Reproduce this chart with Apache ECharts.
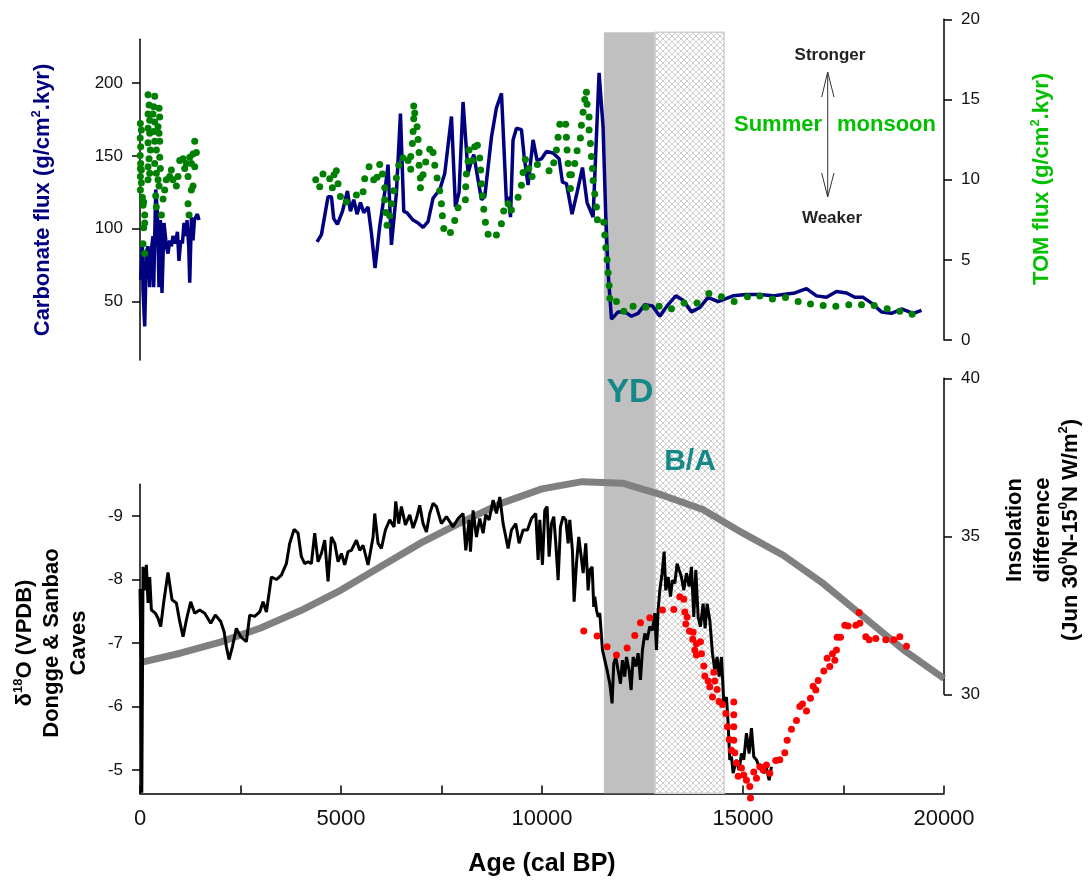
<!DOCTYPE html>
<html>
<head>
<meta charset="utf-8">
<script src="https://cdn.jsdelivr.net/npm/echarts@6.0.0/dist/echarts.min.js"></script>
<style>
  html, body { margin: 0; padding: 0; background: #fff; }
  #chart { width: 1089px; height: 889px; }
</style>
</head>
<body>
<div id="chart"></div>
<script>
"use strict";

// age axis (cal BP)
var ageTicks = [0, 5000, 10000, 15000, 20000];
// shaded intervals: Younger Dryas, Bolling/Allerod
var ydBand = [11540, 12815];
var baBand = [12815, 14530];

// carbonate flux (g/cm2.kyr), null = gap in record
var carbonFlux = [
  [17,65],[60,88],[75,58],[117,33],[159,84],[199,88],[241,60],[284,86],[323,95],[341,60],[391,127],[433,111],
  [473,60],[508,106],[547,56],[597,104],[657,88],[697,83],[739,92],[781,88],[821,95],[881,90],[931,98],[970,78],
  [1013,92],[1055,90],[1095,104],[1137,95],[1169,106],[1212,88],[1237,63],[1279,108],[1319,92],[1353,106],
  [1386,108],[1428,110],[1468,106],[3000,null],
  [4404,91],[4513,96],[4677,122],[4762,122],[4819,107],[4911,103],[5036,112],[5160,126],[5235,112],[5317,120],
  [5399,110],[5484,118],[5566,111],[5673,115],[5757,97],[5847,73],[5964,102],[6088,125],[6170,144],[6255,89],
  [6379,125],[6479,179],[6561,112],[6643,111],[6792,106],[6917,104],[7041,101],[7165,105],[7290,121],[7457,127],
  [7581,138],[7748,177],[7847,115],[7937,125],[8036,187],[8161,138],[8228,145],[8303,151],[8370,140],[8494,120],
  [8576,122],[8743,163],[8867,183],[8992,193],[9116,118],[9156,122],[9216,108],[9280,161],[9365,169],[9489,168],
  [9554,150],[9653,130],[9778,161],[9877,147],[9987,148],[10111,153],[10275,152],[10425,148],[10509,132],
  [10609,131],[10748,110],[10873,125],[11007,142],[11121,118],[11271,108],[11420,207],[11519,170],[11587,108],
  [11644,70],[11729,38],[11893,43],[12059,43],[12226,40],[12390,42],[12557,48],[12749,47],[12930,40],[13137,48],
  [13328,54],[13510,51],[13719,43],[13925,46],[14132,53],[14381,50],[14754,54],[15087,55],[15418,55],[15749,54],
  [15998,55],[16289,56],[16580,59],[16829,54],[17077,53],[17326,57],[17575,56],[17782,53],[17988,53],[18197,49],
  [18446,43],[18695,42],[18944,45],[19232,42],[19441,44]
];

// TOM flux (g/cm2.kyr)
var tomFlux = [
  [9,13.5],[34,13.1],[5,12.6],[17,12.05],[5,11.5],[17,11.0],[10,10.7],[34,10.6],[10,10.2],[34,9.8],[10,9.35],
  [59,8.9],[92,8.6],[75,8.4],[117,7.8],[117,7.3],[92,7.0],[75,6.0],[117,5.4],
  [200,15.3],[225,14.65],[200,14.1],[241,13.7],[200,13.2],[241,12.9],[200,12.3],[258,11.85],[225,11.3],[200,10.8],
  [241,10.4],[200,10.0],
  [366,15.2],[341,14.55],[474,14.45],[324,14.1],[490,13.9],[366,13.6],[449,13.3],[341,13.0],[474,12.9],[366,12.4],
  [490,12.4],[407,11.85],[490,11.4],[366,11.0],[507,10.7],[407,10.4],[449,10.0],[474,9.6],[391,9.0],[407,8.3],[532,7.8],
  [573,8.8],[614,9.35],[656,10.0],[739,10.2],[780,10.6],[822,10.0],[905,9.6],[946,10.2],[988,11.2],[1071,11.3],
  [1112,10.7],[1154,11.0],[1195,10.2],[1237,11.4],[1278,11.0],[1278,9.35],[1195,8.5],[1220,7.8],[1319,9.6],
  [1319,11.6],[1361,12.4],[1402,11.7],[1361,10.8],
  [4371,10.0],[4471,9.55],[4553,10.35],[4719,10.05],[4786,9.5],[4827,10.3],[4885,10.55],[4927,9.75],[4985,8.95],
  [5134,8.6],[5383,9.05],[5549,9.25],[5590,10.05],[5698,10.8],[5814,10.0],[5897,10.15],[5963,10.95],[6030,10.35],
  [6088,9.5],[6088,8.75],[6113,7.95],[6146,7.15],[6212,7.75],[6254,8.5],[6312,9.3],[6378,10.1],[6436,10.9],
  [6544,11.35],[6668,11.2],[6735,10.65],[6735,11.45],[6776,12.25],[6793,13.0],[6809,13.8],[6834,14.15],[6809,14.6],
  [6892,13.3],[6917,12.5],[6942,11.7],[6942,10.9],[6975,10.1],[7041,10.3],[6975,9.5],[7108,11.1],[7207,11.9],
  [7290,11.7],[7332,10.9],[7390,10.1],[7456,9.3],[7498,8.5],[7522,7.75],[7556,6.95],[7722,6.7],[7829,7.45],
  [7912,8.25],[8095,8.75],[8103,9.55],[8120,10.35],[8161,11.15],[8186,11.85],[8269,11.2],[8327,12.05],[8393,12.15],
  [8451,11.35],[8476,10.6],[8493,9.75],[8518,9.0],[8551,8.15],[8592,7.35],[8659,6.6],[8866,6.55],[8990,7.25],
  [9048,8.05],[9156,8.5],[9239,8.1],[9405,8.9],[9488,9.65],[9529,10.45],[9587,11.25],[9670,10.7],[9753,10.2],
  [9886,10.95],[10176,10.55],[10292,11.05],[10359,11.85],[10400,12.65],[10442,13.45],[10590,13.45],[10607,12.65],
  [10624,11.85],[10649,11.0],[10690,10.3],[10732,10.3],[10707,9.45],[10815,11.0],[10873,11.8],[10956,12.6],
  [10981,13.4],[11022,14.2],[11064,15.0],[11105,15.45],[11121,14.7],[11171,13.9],[11171,13.1],[11204,12.25],
  [11229,11.45],[11254,10.7],[11271,9.95],[11312,9.1],[11354,8.3],[11378,7.5],[11536,7.35],[11561,6.55],
  [11586,5.75],[11619,5.0],[11644,4.2],[11669,3.4],[11686,2.6],[11851,2.4],[12034,1.8],[12266,2.1],[12581,2.05],
  [12913,2.1],[13220,1.95],[13535,2.3],[13858,2.3],[14149,2.9],[14464,2.7],[14780,2.4],[15111,2.7],[15418,2.75],
  [15733,2.55],[16057,2.65],[16372,2.4],[16679,2.25],[16994,2.15],[17309,2.1],[17632,2.2],[17947,2.2],[18263,2.15],
  [18586,1.95],[18901,1.8],[19208,1.6]
];

// speleothem d18O, Dongge & Sanbao (permil VPDB)
var caveD18O = [
  [0,-7.85],[25,-6.8],[45,-4.64],[70,-7.5],[75,-8.2],[117,-7.83],[158,-8.23],[200,-7.63],[241,-8.04],[283,-7.52],
  [324,-7.55],[382,-7.47],[449,-7.39],[515,-7.26],[598,-7.68],[697,-8.11],[797,-7.68],[905,-7.63],[988,-7.34],
  [1071,-7.1],[1153,-7.36],[1261,-7.65],[1361,-7.47],[1485,-7.52],[1610,-7.47],[1759,-7.31],[1875,-7.44],
  [2008,-7.34],[2091,-7.18],[2149,-6.94],[2215,-6.74],[2298,-6.94],[2397,-7.23],[2505,-7.1],[2646,-7.02],
  [2729,-7.44],[2853,-7.42],[2978,-7.49],[3061,-7.65],[3144,-7.49],[3268,-8.04],[3393,-8.0],[3517,-8.07],
  [3641,-8.25],[3724,-8.57],[3832,-8.79],[3932,-8.73],[4014,-8.36],[4097,-8.25],[4180,-8.28],[4263,-8.25],
  [4346,-8.73],[4429,-8.28],[4512,-8.41],[4595,-8.62],[4678,-7.97],[4761,-8.67],[4844,-8.57],[4927,-8.28],
  [5010,-8.41],[5093,-8.23],[5175,-8.44],[5258,-8.46],[5383,-8.62],[5466,-8.46],[5549,-8.54],[5673,-8.23],
  [5798,-8.67],[5839,-9.04],[5922,-8.57],[6005,-8.49],[6104,-8.78],[6212,-8.94],[6320,-8.83],[6361,-9.23],
  [6436,-8.88],[6502,-9.15],[6602,-8.86],[6710,-9.02],[6793,-8.81],[6876,-8.96],[6959,-9.17],[7042,-8.88],
  [7125,-8.75],[7207,-9.04],[7291,-9.2],[7374,-9.15],[7498,-8.88],[7623,-8.99],[7788,-8.83],[7913,-8.96],
  [8037,-9.04],[8104,-8.46],[8187,-8.94],[8220,-8.44],[8286,-9.09],[8369,-8.67],[8452,-8.96],[8535,-8.73],
  [8601,-9.02],[8684,-8.94],[8784,-9.25],[8867,-9.04],[8950,-9.3],[9033,-8.88],[9157,-8.49],[9240,-8.78],
  [9348,-8.88],[9431,-8.57],[9530,-8.78],[9638,-8.78],[9737,-8.96],[9845,-9.04],[9903,-8.31],[9945,-8.94],
  [10011,-8.23],[10069,-9.09],[10127,-9.15],[10177,-8.36],[10235,-8.88],[10293,-8.99],[10343,-8.57],[10401,-7.99],
  [10459,-8.83],[10525,-8.99],[10592,-8.94],[10650,-8.57],[10691,-8.94],[10757,-8.46],[10799,-7.65],[10857,-8.25],
  [10915,-8.67],[10981,-8.33],[11023,-8.1],[11089,-8.57],[11147,-7.83],[11189,-8.15],[11247,-8.2],[11288,-7.57],
  [11313,-7.73],[11355,-7.52],[11396,-7.41],[11437,-7.47],[11504,-6.89],[11562,-6.73],[11620,-6.57],[11686,-6.36],
  [11744,-6.05],[11785,-6.68],[11835,-6.78],[11893,-6.57],[11952,-6.36],[12001,-6.73],[12059,-6.47],[12101,-6.78],
  [12167,-6.57],[12217,-6.26],[12267,-6.78],[12333,-6.63],[12391,-6.84],[12449,-6.42],[12499,-6.89],[12557,-7.15],
  [12615,-7.05],[12681,-7.26],[12748,-7.2],[12806,-7.47],[12847,-6.89],[12889,-7.52],[12930,-7.83],[12988,-8.1],
  [13038,-8.44],[13079,-7.83],[13138,-8.04],[13196,-7.73],[13245,-7.99],[13303,-7.94],[13361,-8.25],[13411,-8.15],
  [13469,-8.04],[13527,-7.83],[13594,-8.1],[13660,-7.89],[13718,-8.2],[13776,-7.41],[13826,-8.15],[13884,-7.41],
  [13942,-7.26],[14008,-7.62],[14058,-7.23],[14108,-7.62],[14174,-7.36],[14240,-6.84],[14299,-6.57],[14357,-6.78],
  [14406,-6.47],[14465,-6.78],[14523,-6.05],[14589,-6.15],[14630,-5.73],[14671,-5.16],[14713,-5.21],[14754,-4.95],
  [14837,-5.16],[14903,-5.0],[14962,-5.26],[15019,-5.16],[15086,-5.58],[15152,-5.26],[15210,-5.66],[15268,-5.21],
  [15335,-5.16],[15401,-5.05],[15459,-5.08],[15517,-4.95],[15584,-5.03],[15650,-4.84],[15708,-5.05]
];

// second d18O record (red dots)
var redD18O = [
  [11039,-7.19],[11371,-7.11],[11620,-6.94],[11852,-6.81],[12117,-6.92],[12308,-7.12],[12449,-7.32],[12681,-7.4],
  [12997,-7.52],[13279,-7.53],[13428,-7.73],[13527,-7.69],[13552,-7.49],[13610,-7.41],[13577,-7.3],[13668,-7.19],
  [13760,-7.17],[13750,-7.06],[13842,-6.99],[13942,-7.02],[13801,-6.89],[13842,-6.81],[13967,-6.83],[14025,-6.64],
  [14050,-6.48],[14133,-6.4],[14274,-6.54],[14299,-6.4],[14174,-6.31],[14357,-6.27],[14241,-6.15],[14406,-6.08],
  [14490,-6.03],[14572,-5.89],[14771,-6.07],[14771,-5.87],[14614,-5.68],[14771,-5.68],[14655,-5.48],[14771,-5.47],
  [14713,-5.31],[14796,-5.27],[14838,-5.11],[14879,-4.9],[14962,-5.03],[15019,-4.92],[15086,-4.84],[15169,-4.74],
  [15186,-4.56],[15268,-4.97],[15335,-4.87],[15418,-5.05],[15501,-5.0],[15584,-5.08],[15666,-4.95],[15815,-5.15],
  [15915,-5.16],[16040,-5.27],[16098,-5.47],[16205,-5.64],[16330,-5.78],[16413,-6.0],[16479,-6.04],[16579,-5.93],
  [16678,-6.13],[16745,-6.32],[16811,-6.26],[16869,-6.41],[17010,-6.56],[17093,-6.76],[17159,-6.63],[17226,-6.83],
  [17284,-6.73],[17325,-6.89],[17342,-7.09],[17425,-7.09],[17532,-7.28],[17615,-7.27],[17806,-7.28],[17889,-7.48],
  [17905,-7.31],[18055,-7.1],[18138,-7.05],[18304,-7.07],[18552,-7.05],[18751,-7.05],[18901,-7.1],[19067,-6.95]
];

// insolation difference Jun 30N-15N (W/m2)
var insolYears = [0,1000,2000,3000,4000,5000,6000,7000,8000,9000,10000,11000,12000,13000,14000,15000,16000,17000,18000,19000,20000];
var insolValues = [31.0,31.3,31.65,32.1,32.65,33.3,34.05,34.8,35.45,36.05,36.5,36.73,36.68,36.3,35.85,35.1,34.4,33.5,32.45,31.4,30.5];

var FONT = "'Liberation Sans', Arial, sans-serif";

//crosshatch for the B/A interval
function hatchPattern() {
  var c = document.createElement("canvas");
  c.width = 6;
  c.height = 6;
  var ctx = c.getContext("2d");
  ctx.fillStyle = "#ffffff";
  ctx.fillRect(0, 0, 6, 6);
  ctx.strokeStyle = "#c6c6c6";
  ctx.lineWidth = 0.9;
  ctx.beginPath();
  ctx.moveTo(0, 0); ctx.lineTo(6, 6);
  ctx.moveTo(6, 0); ctx.lineTo(0, 6);
  ctx.stroke();
  return c;
}

function axisLineStyle() {
  return { show: true, onZero: false, lineStyle: { color: "#000", width: 1.5 } };
}

function hiddenX(grid) {
  return { gridIndex: grid, type: "value", min: 0, max: 20000, show: false };
}

function titleText(x, y, text, color, extra) {
  return {
    type: "text", x: x, y: y, rotation: Math.PI / 2, z: 20,
    style: {
      text: text, align: "center", verticalAlign: "middle", fill: color,
      rich: {
        t: { fontFamily: FONT, fontSize: 22, fontWeight: "bold", fill: color, lineHeight: extra || 27 },
        s: { fontFamily: FONT, fontSize: 13, fontWeight: "bold", fill: color, verticalAlign: "top", lineHeight: 13 }
      }
    }
  };
}

function plainText(x, y, text, size, color, align) {
  return {
    type: "text", x: x, y: y, z: 20,
    style: {
      text: text, fill: color, align: align || "center", verticalAlign: "middle",
      fontFamily: FONT, fontSize: size, fontWeight: "bold"
    }
  };
}

var myChart = echarts.init(document.getElementById("chart"));

var option = {
  animation: false,
  backgroundColor: "#ffffff",
  grid: [
    { left: 140, right: 145, top: 39.3, height: 320.7 },   // carbonate
    { left: 140, right: 145, top: 19.3, height: 320.7 },   // TOM
    { left: 140, right: 145, top: 484.3, height: 309.2 },  // d18O
    { left: 140, right: 145, top: 378.3, height: 316 },    // insolation
    { left: 140, right: 145, top: 32.3, height: 761 }      // bands
  ],
  xAxis: [
    hiddenX(0),
    hiddenX(1),
    {
      gridIndex: 2, type: "value", min: 0, max: 20000, interval: 5000,
      axisLine: axisLineStyle(),
      axisTick: { show: true, inside: true, length: 8, lineStyle: { color: "#000", width: 1.5 } },
      minorTick: { show: true, splitNumber: 2, length: 8, lineStyle: { color: "#000", width: 1.5 } },
      axisLabel: {
        fontFamily: FONT, fontSize: 22, color: "#111", margin: 14, customValues: ageTicks,
        formatter: function (v) { return String(v); }
      },
      splitLine: { show: false }
    },
    hiddenX(3),
    hiddenX(4)
  ],
  yAxis: [
    {
      gridIndex: 0, type: "value", position: "left", min: 10, max: 230,
      axisLine: axisLineStyle(),
      axisTick: { show: true, length: 8, lineStyle: { color: "#000", width: 1.5 }, customValues: [50, 100, 150, 200] },
      axisLabel: { fontFamily: FONT, fontSize: 17, color: "#111", margin: 17, customValues: [50, 100, 150, 200] },
      splitLine: { show: false }
    },
    {
      gridIndex: 1, type: "value", position: "right", min: 0, max: 20, interval: 5,
      axisLine: axisLineStyle(),
      axisTick: { show: true, length: 8, lineStyle: { color: "#000", width: 1.5 } },
      axisLabel: { fontFamily: FONT, fontSize: 17, color: "#111", margin: 17 },
      splitLine: { show: false }
    },
    {
      gridIndex: 2, type: "value", position: "left", inverse: true, min: -9.5, max: -4.63,
      axisLine: axisLineStyle(),
      axisTick: { show: true, length: 8, lineStyle: { color: "#000", width: 1.5 }, customValues: [-9, -8, -7, -6, -5] },
      axisLabel: { fontFamily: FONT, fontSize: 17, color: "#111", margin: 17, customValues: [-9, -8, -7, -6, -5] },
      splitLine: { show: false }
    },
    {
      gridIndex: 3, type: "value", position: "right", min: 30, max: 40, interval: 5,
      axisLine: axisLineStyle(),
      axisTick: { show: true, length: 8, lineStyle: { color: "#000", width: 1.5 } },
      axisLabel: { fontFamily: FONT, fontSize: 17, color: "#111", margin: 17 },
      splitLine: { show: false }
    },
    { gridIndex: 4, type: "value", min: 0, max: 1, show: false }
  ],
  series: [
    {
      //YD and B/A shading
      type: "line", xAxisIndex: 4, yAxisIndex: 4, data: [], z: 0, silent: true,
      markArea: {
        silent: true,
        label: { show: false },
        data: [
          [{ xAxis: ydBand[0], itemStyle: { color: "#c0c0c0", opacity: 1 } }, { xAxis: ydBand[1] }],
          [{ xAxis: baBand[0], itemStyle: { color: { image: hatchPattern(), repeat: "repeat" }, opacity: 1, borderColor: "#d0d0d0", borderWidth: 1.5 } }, { xAxis: baBand[1] }]
        ]
      }
    },
    {
      name: "Carbonate flux", type: "line", xAxisIndex: 0, yAxisIndex: 0, z: 3,
      showSymbol: false, connectNulls: false,
      lineStyle: { color: "#000080", width: 3.5 },
      itemStyle: { color: "#000080" },
      data: carbonFlux.map(function (d) { return [d[0], d[1] === null ? "-" : d[1]]; })
    },
    {
      name: "TOM flux", type: "scatter", xAxisIndex: 1, yAxisIndex: 1, z: 4,
      symbolSize: 7, itemStyle: { color: "#008000", opacity: 1 },
      data: tomFlux
    },
    {
      name: "Insolation", type: "line", xAxisIndex: 3, yAxisIndex: 3, z: 3,
      showSymbol: false, lineStyle: { color: "#808080", width: 7 },
      itemStyle: { color: "#808080" },
      data: insolYears.map(function (y, i) { return [y, insolValues[i]]; })
    },
    {
      name: "d18O", type: "line", xAxisIndex: 2, yAxisIndex: 2, z: 4,
      showSymbol: false, lineStyle: { color: "#000", width: 3 },
      itemStyle: { color: "#000" },
      data: caveD18O
    },
    {
      name: "d18O 2", type: "scatter", xAxisIndex: 2, yAxisIndex: 2, z: 5, clip: false,
      symbolSize: 7, itemStyle: { color: "#ff0000", opacity: 1 },
      data: redD18O
    }
  ],
  graphic: [
    titleText(43, 200, "{t|Carbonate flux (g/cm}{s|2}{t|.kyr)}", "#000080"),
    titleText(1042, 179, "{t|TOM flux (g/cm}{s|2}{t|.kyr)}", "#00c000"),
    titleText(52, 643, "{t|δ}{s|18}{t|O (VPDB)}\n{t|Dongge & Sanbao}\n{t|Caves}", "#000"),
    titleText(1043, 530, "{t|Insolation}\n{t|difference}\n{t|(Jun 30}{s|0}{t|N-15}{s|0}{t|N W/m}{s|2}{t|)}", "#000", 28),
    plainText(542, 864, "Age (cal BP)", 25, "#000"),
    plainText(830, 55, "Stronger", 17, "#222"),
    plainText(832, 218, "Weaker", 17, "#222"),
    plainText(822, 125, "Summer", 22, "#00c000", "right"),
    plainText(837, 125, "monsoon", 22, "#00c000", "left"),
    plainText(630, 393, "YD", 34, "#158888"),
    plainText(690, 462, "B/A", 30, "#158888"),
    //monsoon arrow
    { type: "polyline", z: 20, shape: { points: [[827.7, 72], [827.7, 197]] }, style: { stroke: "#333", lineWidth: 1, fill: null } },
    { type: "polyline", z: 20, shape: { points: [[821.7, 97], [827.7, 72], [834, 97]] }, style: { stroke: "#333", lineWidth: 1, fill: null } },
    { type: "polyline", z: 20, shape: { points: [[821.7, 173], [827.7, 197], [834, 173]] }, style: { stroke: "#333", lineWidth: 1, fill: null } }
  ]
};

myChart.setOption(option);
</script>
</body>
</html>
